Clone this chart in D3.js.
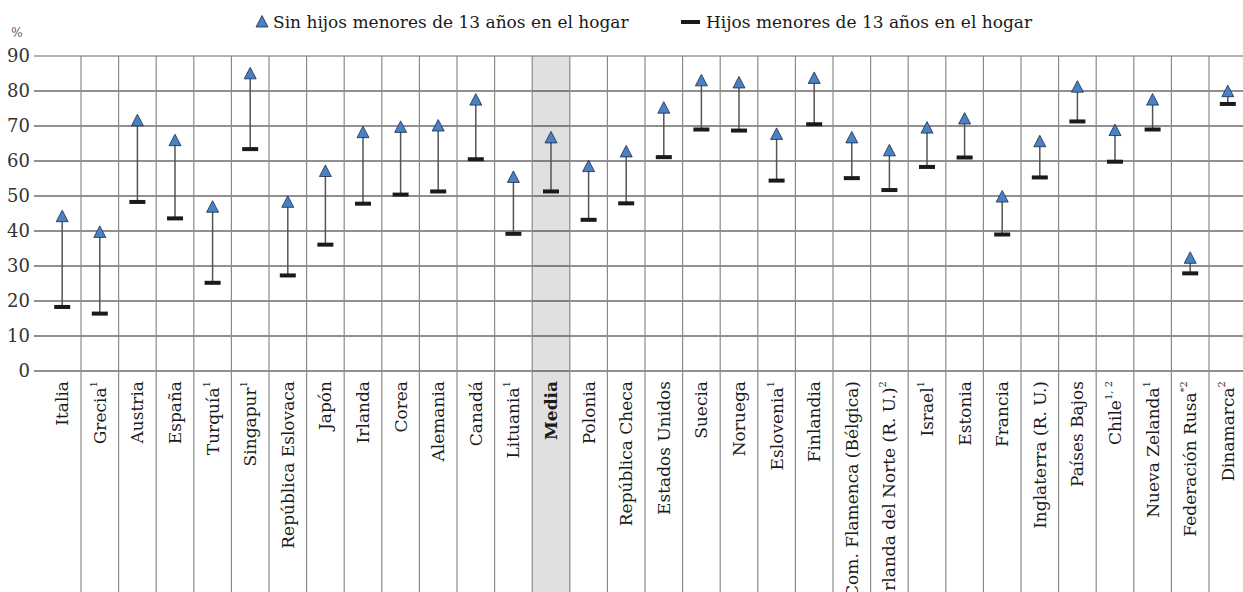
<!DOCTYPE html>
<html><head><meta charset="utf-8">
<script src="https://cdn.jsdelivr.net/npm/d3@7"></script>
<style>body{margin:0;background:#fff}svg{display:block}</style>
</head><body>
<svg id="c" width="1243" height="592"></svg>
<script>
const categories = ["Italia","Grecia","Austria","España","Turquía","Singapur","República Eslovaca","Japón","Irlanda","Corea","Alemania","Canadá","Lituania","Media","Polonia","República Checa","Estados Unidos","Suecia","Noruega","Eslovenia","Finlandia","Com. Flamenca (Bélgica)","Irlanda del Norte (R. U.)","Israel","Estonia","Francia","Inglaterra (R. U.)","Países Bajos","Chile","Nueva Zelanda","Federación Rusa","Dinamarca"];
const notes = ["","1","","","1","1","","","","","","","1","","","","","","","1","","","2","1","","","","","1, 2","1","*2","2"];
const sinHijos = [44.1,39.6,71.5,65.8,46.8,84.9,48.2,57.0,68.1,69.6,70.0,77.4,55.3,66.6,58.4,62.6,75.1,82.9,82.3,67.6,83.6,66.6,62.9,69.4,72.0,49.7,65.5,81.1,68.7,77.4,32.2,79.8];
const conHijos = [18.3,16.4,48.3,43.6,25.2,63.4,27.3,36.1,47.8,50.4,51.3,60.5,39.2,51.3,43.2,47.9,61.1,69.0,68.7,54.4,70.5,55.1,51.7,58.3,61.0,39.0,55.3,71.3,59.8,69.0,27.9,76.3];
const yTicks = [0,10,20,30,40,50,60,70,80,90];
const legendLabels = ["Sin hijos menores de 13 años en el hogar","Hijos menores de 13 años en el hogar"];

const svg = d3.select("#c");
const W = 1243, H = 592;
const x = d3.scaleBand().domain(categories).range([43.4, 1246.6]).padding(0);
const y = d3.scaleLinear().domain([0, 90]).range([371, 56]);
const font = "'DejaVu Serif', serif";

// Media shading
svg.append("rect").attr("x", x("Media")).attr("y", y(90)).attr("width", x.bandwidth()).attr("height", H - y(90)).attr("fill", "#e0e0e0");

// horizontal gridlines
svg.append("g").selectAll("line").data(yTicks).join("line")
  .attr("x1", 34).attr("x2", W).attr("y1", d => y(d)).attr("y2", d => y(d))
  .attr("stroke", d => d === 90 ? "#999" : "#222").attr("stroke-width", d => d === 90 ? 1.6 : 1);

// vertical separators
svg.append("g").selectAll("line").data(categories.slice(1)).join("line")
  .attr("x1", d => x(d)).attr("x2", d => x(d)).attr("y1", y(90)).attr("y2", H)
  .attr("stroke", "#8a8a8a").attr("stroke-width", 1.2);

// y axis labels
svg.append("g").selectAll("text").data(yTicks).join("text")
  .attr("x", 30).attr("y", d => y(d)).attr("dy", "0.36em").attr("text-anchor", "end")
  .attr("font-family", font).attr("font-size", 18).attr("fill", "#333").text(d => d);
svg.append("text").attr("x", 17).attr("y", 37).attr("text-anchor", "middle")
  .attr("font-family", font).attr("font-size", 12).attr("fill", "#555").text("%");

// category labels
const lab = svg.append("g").selectAll("text").data(categories).join("text")
  .attr("transform", d => `translate(${x(d) + x.bandwidth()/2},381) rotate(-90)`)
  .attr("dy", "0.35em").attr("text-anchor", "end")
  .attr("font-family", font).attr("font-size", 17).attr("fill", "#1a1a1a")
  .attr("font-weight", d => d === "Media" ? "bold" : "normal");
lab.append("tspan").text(d => d);
lab.append("tspan").attr("font-size", 10).attr("dy", "-0.9em").text((d, i) => notes[i]);

// connectors
const cx = d => x(d) + x.bandwidth()/2;
svg.append("g").selectAll("line").data(categories).join("line")
  .attr("x1", cx).attr("x2", cx)
  .attr("y1", (d, i) => y(conHijos[i])).attr("y2", (d, i) => y(sinHijos[i]))
  .attr("stroke", "#555").attr("stroke-width", 1.5);

// bars (con hijos)
svg.append("g").selectAll("rect").data(categories).join("rect")
  .attr("x", d => cx(d) - 8).attr("y", (d, i) => y(conHijos[i]) - 2)
  .attr("width", 16).attr("height", 4).attr("fill", "#1a1a1a");

// triangles
const tri = "M0,-6.5L6,5L-6,5Z";
svg.append("g").selectAll("path").data(categories).join("path")
  .attr("transform", (d, i) => `translate(${cx(d)},${y(sinHijos[i])})`)
  .attr("d", tri).attr("fill", "#4a80c4").attr("stroke", "#1c2b45").attr("stroke-width", 0.8);

// legend
const lg = svg.append("g");
lg.append("path").attr("transform", "translate(262,22)").attr("d", tri).attr("fill", "#4a80c4").attr("stroke", "#1c2b45").attr("stroke-width", 0.8);
lg.append("text").attr("x", 273).attr("y", 22).attr("dy", "0.35em").attr("font-family", font).attr("font-size", 17).attr("fill", "#1a1a1a").text(legendLabels[0]);
lg.append("rect").attr("x", 681).attr("y", 20).attr("width", 19).attr("height", 4).attr("fill", "#1a1a1a");
lg.append("text").attr("x", 706).attr("y", 22).attr("dy", "0.35em").attr("font-family", font).attr("font-size", 17).attr("fill", "#1a1a1a").text(legendLabels[1]);
</script>
</body></html>
